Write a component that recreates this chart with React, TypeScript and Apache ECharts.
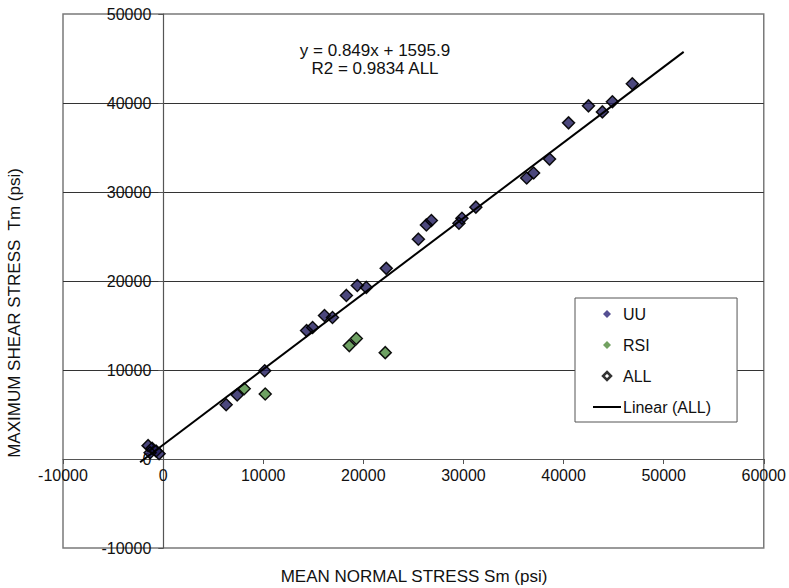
import React, { useEffect, useRef } from "react";
import * as echarts from "echarts";

// Mean normal stress (x, psi) and max shear stress (y, psi)
const uuX = [-1500, -1100, -700, -400, -1300, 6300, 7400, 10150, 14330, 14930, 16120, 16920, 18310, 19400, 20300, 22290, 25500, 26300, 26800, 29550, 29850, 31240, 36320, 37010, 38600, 40500, 42490, 43880, 44880, 46870];
const uuY = [1500, 1200, 900, 600, 700, 6100, 7200, 9920, 14430, 14770, 16120, 15900, 18380, 19500, 19280, 21420, 24700, 26300, 26800, 26490, 27050, 28300, 31570, 32130, 33700, 37770, 39680, 39000, 40140, 42160];
const rsiX = [8100, 10200, 18600, 19300, 22190];
const rsiY = [7900, 7300, 12740, 13530, 11950];

const slope = 0.849;
const intercept = 1595.9;
const fitRange = [-2300, 52000];

const xTicks = { min: -10000, max: 60000, interval: 10000 };
const yTicks = { min: -10000, max: 50000, interval: 10000 };

const FONT = "'Liberation Sans', Arial, sans-serif";

const GRID = { left: 63, right: 24, top: 14, bottom: 40 };
const W = 789;
const H = 588;

const DIAMOND = "path://M5,0 L10,5 L5,10 L0,5 Z";

export default function App() {
  const ref = useRef<HTMLDivElement>(null);
  useEffect(() => {
    if (!ref.current) return;
    const chart = echarts.init(ref.current, undefined, { renderer: "svg" });
    const uu = uuX.map((x, i) => [x, uuY[i]]);
    const rsi = rsiX.map((x, i) => [x, rsiY[i]]);
    const all = uu.concat(rsi);
    const fit = fitRange.map((x) => [x, slope * x + intercept]);
    const gw = W - GRID.left - GRID.right;
    const gh = H - GRID.top - GRID.bottom;
    const xZeroFromLeft = (gw * (0 - xTicks.min)) / (xTicks.max - xTicks.min);
    const yZeroFromBottom = (gh * (0 - yTicks.min)) / (yTicks.max - yTicks.min);
    chart.setOption({
      animation: false,
      backgroundColor: "#fff",
      textStyle: { fontFamily: FONT },
      grid: {
        ...GRID,
        show: true,
        borderColor: "#7a7a7a",
        borderWidth: 1.5,
        backgroundColor: "transparent",
      },
      xAxis: {
        type: "value",
        min: xTicks.min,
        max: xTicks.max,
        interval: xTicks.interval,
        position: "bottom",
        offset: -yZeroFromBottom,
        axisLine: { show: true, onZero: false, lineStyle: { color: "#555", width: 1.2 } },
        axisTick: { show: true, length: 5, lineStyle: { color: "#555" } },
        axisLabel: { color: "#111", fontSize: 16, fontFamily: FONT, margin: 8, formatter: (v: number) => String(v) },
        splitLine: { show: false },
      },
      yAxis: {
        type: "value",
        min: yTicks.min,
        max: yTicks.max,
        interval: yTicks.interval,
        position: "left",
        offset: -xZeroFromLeft,
        axisLine: { show: true, onZero: false, lineStyle: { color: "#555", width: 1.2 } },
        axisTick: { show: true, length: 5, lineStyle: { color: "#555" } },
        axisLabel: { color: "#111", fontSize: 16, fontFamily: FONT, margin: 12, formatter: (v: number) => String(v) },
        splitLine: { show: true, showMinLine: false, showMaxLine: false, lineStyle: { color: "#333", width: 1.2 } },
      },
      legend: {
        orient: "vertical",
        left: 575,
        top: 298,
        padding: [8, 26, 7, 18],
        itemGap: 15,
        itemWidth: 28,
        itemHeight: 8,
        symbolKeepAspect: true,
        borderColor: "#555",
        borderWidth: 1,
        backgroundColor: "#fff",
        textStyle: { fontSize: 16, color: "#111", fontFamily: FONT, padding: [0, 0, 0, -3] },
        data: [
          { name: "UU", icon: DIAMOND, itemStyle: { color: "#2b2377", borderWidth: 0 } },
          { name: "RSI", icon: DIAMOND, itemStyle: { color: "#4f8a3a", borderWidth: 0 } },
          { name: "ALL", icon: DIAMOND, itemStyle: { color: "#fff", borderColor: "#000", borderWidth: 2.5 } },
          { name: "Linear (ALL)", icon: "path://M0,0 L28,0 L28,2 L0,2 Z", itemStyle: { color: "#000", borderWidth: 0 } },
        ],
      },
      graphic: [
        {
          type: "text",
          x: 375,
          y: 50,
          style: { text: "y = 0.849x + 1595.9", fontSize: 17, fill: "#111", fontFamily: FONT, textAlign: "center", textVerticalAlign: "middle" },
        },
        {
          type: "text",
          x: 375,
          y: 68,
          style: { text: "R2 = 0.9834 ALL", fontSize: 17, fill: "#111", fontFamily: FONT, textAlign: "center", textVerticalAlign: "middle" },
        },
        {
          type: "text",
          x: 414,
          y: 576,
          style: { text: "MEAN NORMAL STRESS Sm (psi)", fontSize: 17, fill: "#111", fontFamily: FONT, textAlign: "center", textVerticalAlign: "middle" },
        },
        {
          type: "text",
          x: 14,
          y: 313,
          rotation: Math.PI / 2,
          style: { text: "MAXIMUM SHEAR STRESS  Tm (psi)", fontSize: 17, fill: "#111", fontFamily: FONT, textAlign: "center", textVerticalAlign: "middle" },
        },
      ],
      series: [
        {
          name: "UU",
          type: "scatter",
          data: uu,
          symbol: "diamond",
          symbolSize: 12,
          itemStyle: { color: "#1f1a5c", borderColor: "#000", borderWidth: 1 },
          z: 3,
        },
        {
          name: "RSI",
          type: "scatter",
          data: rsi,
          symbol: "diamond",
          symbolSize: 12,
          itemStyle: { color: "#4a8a3c", borderColor: "#000", borderWidth: 1 },
          z: 3,
        },
        {
          name: "ALL",
          type: "scatter",
          data: all,
          symbol: "diamond",
          symbolSize: 12,
          itemStyle: { color: "rgba(0,0,0,0)", borderColor: "#000", borderWidth: 1.5 },
          z: 4,
        },
        {
          name: "Linear (ALL)",
          type: "line",
          data: fit,
          symbol: "none",
          itemStyle: { color: "#000" },
          lineStyle: { color: "#000", width: 2 },
          z: 5,
        },
      ],
    });
    return () => chart.dispose();
  }, []);
  return <div ref={ref} style={{ width: W, height: H, position: "absolute", left: 0, top: 0 }} />;
}
